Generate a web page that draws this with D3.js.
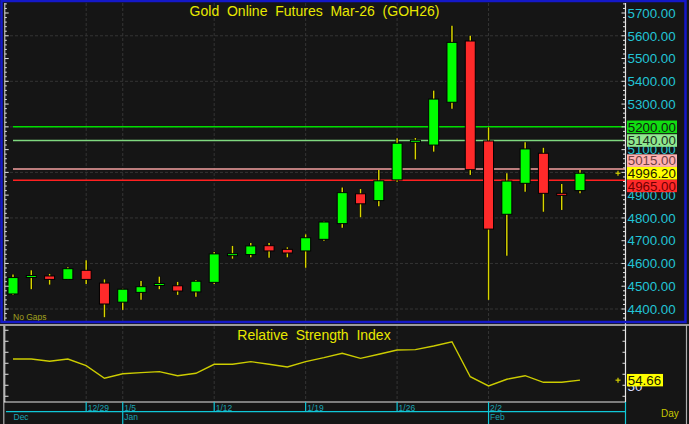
<!DOCTYPE html>
<html><head><meta charset="utf-8">
<script src="https://cdn.jsdelivr.net/npm/d3@7"></script>
<style>html,body{margin:0;padding:0;background:#151515;overflow:hidden}svg{display:block}</style>
</head><body><svg id="c" width="689" height="424"></svg>
<script>
// ---------- data ----------
const dates = ["12/22","12/23","12/24","12/26","12/29","12/30","1/5","1/6","1/7","1/8","1/9",
  "1/12","1/13","1/14","1/15","1/16","1/19","1/20","1/21","1/22","1/23",
  "1/26","1/27","1/28","1/29","1/30","2/2","2/3","2/4","2/5","2/6","2/9"];
const opens  = [4466,4543,4545,4530,4570,4514,4430,4473,4508,4502,4475,4517,4637,4639,4678,4662,4655,4706,4775,4906,4876,4967,5135,5120,5308,5577,5138,4816,4952,5084,4908,4920];
const highs  = [4552,4570,4554,4583,4614,4530,4489,4523,4542,4519,4527,4650,4677,4690,4690,4671,4728,4784,4934,4927,5010,5150,5151,5359,5644,5600,5198,4996,5132,5108,4949,5010];
const lows   = [4462,4487,4507,4528,4510,4364,4396,4441,4487,4462,4454,4510,4621,4627,4625,4627,4581,4700,4757,4803,4851,4959,5057,5091,5280,4989,4440,4634,4915,4827,4835,4908];
const closes = [4538,4547,4530,4577,4530,4422,4487,4498,4512,4479,4522,4642,4643,4677,4655,4646,4713,4782,4911,4862,4963,5128,5141,5322,5571,5012,4751,4962,5103,4908,4904,4996.2];
const rsiValues = [73.9,73.9,71.8,73.9,67.8,56.4,60.5,61.5,62.4,58.7,60.9,69.1,69.1,71.5,69.1,66.6,71.5,75.1,79.1,74.5,78.2,82.1,82.4,85.7,89.6,57.8,49.4,55.5,58.7,52.7,52.7,54.66];
const weekLabels = ["12/29","1/5","1/12","1/19","1/26","2/2"];
const monthLabels = [["12/22","Dec"],["1/5","Jan"],["2/2","Feb"]];
const priceLabels = [4400,4500,4600,4700,4800,4900,5100,5200,5300,5400,5500,5600,5700];
const levelValues = [5200,5140,5015,4965];
const lastPrice = 4996.2;
const lastRsi = 54.66;
const titleText = "Gold  Online  Futures  Mar-26  (GOH26)";
const rsiTitle = "Relative  Strength  Index";

// ---------- styles ----------
const levelStyles = [
  {line:"#00dd00", bg:"#11dd11", fg:"#102010"},
  {line:"#7fd87f", bg:"#8fe88f", fg:"#203020"},
  {line:"#f4a0a0", bg:"#ffb0b0", fg:"#704040"},
  {line:"#ff2020", bg:"#ff2a2a", fg:"#700000"}
];
const AXIS_FONT = "Liberation Sans, Arial, sans-serif";

const svg = d3.select("#c");
svg.append("rect").attr("width",689).attr("height",424).attr("fill","#151515");

const x = d3.scalePoint().domain(dates).range([13, 580]);
const y = d3.scaleLinear().domain([4400, 5700]).range([309, 13]);
const yR = d3.scaleLinear().domain([34.8, 104.8]).range([402, 325]);

const PL = 5, PR = 625.5, PT = 3, PB = 321;

// ---------- main panel grid ----------
const grid = svg.append("g");
grid.selectAll("line.h").data(d3.range(4400, 5700, 200)).join("line")
  .attr("x1", PL).attr("x2", PR).attr("y1", d=>y(d)).attr("y2", d=>y(d))
  .attr("stroke","#343434").attr("stroke-width",1).attr("stroke-dasharray","3,2");
grid.selectAll("line.v").data(weekLabels).join("line")
  .attr("x1", d=>x(d)).attr("x2", d=>x(d)).attr("y1", PT).attr("y2", PB)
  .attr("stroke","#343434").attr("stroke-width",1).attr("stroke-dasharray","3,2");

// title
svg.append("text").attr("x",314.5).attr("y",16).attr("text-anchor","middle")
  .attr("font-family",AXIS_FONT).attr("font-size",14).attr("fill","#e8e800")
  .style("white-space","pre").attr("xml:space","preserve").text(titleText);

// level lines
levelValues.forEach((v,i)=>{
  svg.append("line").attr("x1",13).attr("x2",PR).attr("y1",y(v)).attr("y2",y(v))
    .attr("stroke",levelStyles[i].line).attr("stroke-width",1.5);
});

// candles
const idx = d3.range(dates.length);
const cg = svg.append("g");
cg.selectAll("line.w").data(idx).join("line")
  .attr("x1", i=>x(dates[i])).attr("x2", i=>x(dates[i]))
  .attr("y1", i=>y(highs[i])).attr("y2", i=>y(lows[i]))
  .attr("stroke","#000").attr("stroke-width",3);
cg.selectAll("line.w2").data(idx).join("line")
  .attr("x1", i=>x(dates[i])).attr("x2", i=>x(dates[i]))
  .attr("y1", i=>y(highs[i])).attr("y2", i=>y(lows[i]))
  .attr("stroke","#d8d400").attr("stroke-width",1.5);
const BW = 10;
cg.selectAll("rect").data(idx).join("rect")
  .attr("x", i=>x(dates[i]) - BW/2)
  .attr("width", BW)
  .attr("y", i=>Math.min(y(opens[i]), y(closes[i])))
  .attr("height", i=>Math.max(2, Math.abs(y(opens[i]) - y(closes[i]))))
  .attr("fill", i=> closes[i] >= opens[i] ? "#00ff00" : "#ff2a2a")
  .attr("stroke","#000").attr("stroke-width",1);

// "No Gaps"
svg.append("text").attr("x",13).attr("y",320).attr("font-family",AXIS_FONT)
  .attr("font-size",8.5).attr("fill","#a0a020").text("No Gaps");

// left axis (main)
svg.append("line").attr("x1",4.8).attr("x2",4.8).attr("y1",PT).attr("y2",PB).attr("stroke","#e0e0e0").attr("stroke-width",1);
const minorTicks = d3.range(4360, 5760, 20);
svg.selectAll("line.lt").data(minorTicks).join("line")
  .attr("x1",4.8).attr("x2", d=> d%100===0 ? 8.7 : 6.8)
  .attr("y1",d=>y(d)).attr("y2",d=>y(d)).attr("stroke","#e0e0e0").attr("stroke-width",1);

// right axis (main)
svg.append("line").attr("x1",PR).attr("x2",PR).attr("y1",PT).attr("y2",402).attr("stroke","#e8e8e8").attr("stroke-width",1.2);
svg.selectAll("line.rt").data(minorTicks).join("line")
  .attr("x1",PR).attr("x2", d=> d%100===0 ? PR-4 : PR-2.5)
  .attr("y1",d=>y(d)).attr("y2",d=>y(d)).attr("stroke","#e0e0e0").attr("stroke-width",1);
svg.selectAll("text.pl").data(priceLabels).join("text")
  .attr("x",627.5).attr("y",d=>y(d)+4.8)
  .attr("font-family",AXIS_FONT).attr("font-size",13.3).attr("fill","#22c4d6")
  .text(d=>d3.format(".2f")(d));

// level boxes with collision avoidance around current price
const BH = 12.6;
const boxes = levelValues.map((v,i)=>({v, y:y(v), st:levelStyles[i], txt:d3.format(".2f")(v)}));
const cur = {v:lastPrice, y:y(lastPrice), st:{bg:"#ffff00", fg:"#202000"}, txt:d3.format(".2f")(lastPrice)};
const above = boxes.filter(b=>b.v>lastPrice).sort((a,b)=>b.y-a.y);
const below = boxes.filter(b=>b.v<lastPrice).sort((a,b)=>a.y-b.y);
let lim = cur.y;
above.forEach(b=>{ b.cy = Math.min(b.y, lim-BH); lim=b.cy; });
lim = cur.y;
below.forEach(b=>{ b.cy = Math.max(b.y, lim+BH); lim=b.cy; });
cur.cy = cur.y;
[...boxes, cur].forEach(b=>{
  svg.append("rect").attr("x",627).attr("y",b.cy-BH/2).attr("width",50).attr("height",BH).attr("fill",b.st.bg);
  svg.append("text").attr("x",627.8).attr("y",b.cy+4.8).attr("font-family",AXIS_FONT)
    .attr("font-size",13.3).attr("fill",b.st.fg).text(b.txt);
});
// crosshair marks
function plus(cx, cy){
  svg.append("line").attr("x1",cx-2.5).attr("x2",cx+2.5).attr("y1",cy).attr("y2",cy).attr("stroke","#d4d000").attr("stroke-width",1.2);
  svg.append("line").attr("x1",cx).attr("x2",cx).attr("y1",cy-2.5).attr("y2",cy+2.5).attr("stroke","#d4d000").attr("stroke-width",1.2);
}
plus(618, y(lastPrice));

// main panel border (blue)
svg.append("rect").attr("x",1.5).attr("y",1).attr("width",684).attr("height",321)
  .attr("fill","none").attr("stroke","#1418c8").attr("stroke-width",2.5);

// ---------- RSI panel ----------
svg.append("line").attr("x1",0).attr("x2",689).attr("y1",325).attr("y2",325).attr("stroke","#c8c8c8").attr("stroke-width",1.5);
svg.append("line").attr("x1",3.8).attr("x2",3.8).attr("y1",325).attr("y2",424).attr("stroke","#b0b0b0").attr("stroke-width",1.2);
svg.append("line").attr("x1",686.5).attr("x2",686.5).attr("y1",325).attr("y2",424).attr("stroke","#b0b0b0").attr("stroke-width",1.2);
svg.selectAll("line.rv").data(weekLabels).join("line")
  .attr("x1", d=>x(d)).attr("x2", d=>x(d)).attr("y1", 326).attr("y2", 402)
  .attr("stroke","#343434").attr("stroke-width",1).attr("stroke-dasharray","3,2");
svg.append("text").attr("x",314).attr("y",340).attr("text-anchor","middle")
  .attr("font-family",AXIS_FONT).attr("font-size",14).attr("fill","#e8e800")
  .attr("xml:space","preserve").text(rsiTitle);
const rsiTicks = d3.range(40, 101, 10);
svg.selectAll("line.rl").data(rsiTicks).join("line")
  .attr("x1",4.8).attr("x2",8.5).attr("y1",d=>yR(d)).attr("y2",d=>yR(d)).attr("stroke","#e0e0e0");
svg.selectAll("line.rr").data(rsiTicks).join("line")
  .attr("x1",PR).attr("x2",PR-3).attr("y1",d=>yR(d)).attr("y2",d=>yR(d)).attr("stroke","#e0e0e0");
svg.append("line").attr("x1",4.8).attr("x2",4.8).attr("y1",326).attr("y2",402).attr("stroke","#e0e0e0");
svg.append("path").datum(idx)
  .attr("d", d3.line().x(i=>x(dates[i])).y(i=>yR(rsiValues[i])))
  .attr("fill","none").attr("stroke","#cccc00").attr("stroke-width",1.4);
svg.append("text").attr("x",627.5).attr("y",yR(50)+5.5).attr("font-family",AXIS_FONT)
  .attr("font-size",13.3).attr("fill","#d8dcff").text("50");
svg.append("rect").attr("x",627).attr("y",yR(lastRsi)-6.2).attr("width",36).attr("height",12.4).attr("fill","#ffff00");
svg.append("text").attr("x",627.8).attr("y",yR(lastRsi)+4.8).attr("font-family",AXIS_FONT)
  .attr("font-size",13.3).attr("fill","#202000").text(d3.format(".2f")(lastRsi));
plus(618, yR(lastRsi));
svg.append("line").attr("x1",4).attr("x2",PR).attr("y1",402).attr("y2",402).attr("stroke","#e8e8e8").attr("stroke-width",1.2);

// ---------- date axis ----------
svg.append("line").attr("x1",6).attr("x2",PR).attr("y1",411.7).attr("y2",411.7).attr("stroke","#10c8d8").attr("stroke-width",1.2);
svg.append("line").attr("x1",PR).attr("x2",PR).attr("y1",402).attr("y2",424).attr("stroke","#10c8d8").attr("stroke-width",1.2);
const monthDates = monthLabels.map(m=>m[0]);
svg.selectAll("line.wt").data(weekLabels).join("line")
  .attr("x1",d=>x(d)).attr("x2",d=>x(d)).attr("y1",402)
  .attr("y2",d=> monthDates.includes(d) ? 424 : 411.7)
  .attr("stroke","#10c8d8").attr("stroke-width",1.2);
svg.selectAll("text.wl").data(weekLabels).join("text")
  .attr("x",d=>x(d)+1.5).attr("y",410.5).attr("font-family",AXIS_FONT)
  .attr("font-size",8.5).attr("fill","#1aa4b4").text(d=>d);
svg.selectAll("text.ml").data(monthLabels).join("text")
  .attr("x",(d,i)=> i===0 ? 13.5 : x(d[0])+1.5).attr("y",420).attr("font-family",AXIS_FONT)
  .attr("font-size",8.5).attr("fill","#1aa4b4").text(d=>d[1]);
svg.append("text").attr("x",661).attr("y",416.5).attr("font-family",AXIS_FONT)
  .attr("font-size",10).attr("fill","#c8c800").text("Day");
</script></body></html>
